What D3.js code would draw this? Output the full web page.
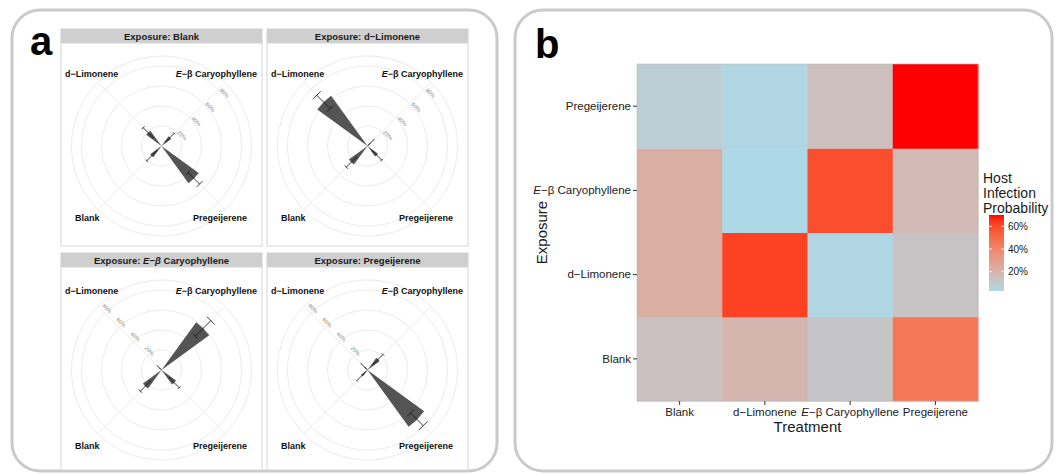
<!DOCTYPE html>
<html>
<head>
<meta charset="utf-8">
<script src="https://cdnjs.cloudflare.com/ajax/libs/d3/7.8.5/d3.min.js"></script>
<style>
  body { margin: 0; background: #fff; }
  text { font-family: "Liberation Sans", Arial, Helvetica, sans-serif; }
</style>
</head>
<body>
<div id="chart"></div>
<script>
// Data
// ================================
var treatments = ["Blank", "d−Limonene", "E−β Caryophyllene", "Pregeijerene"];
var exposures = ["Blank", "d−Limonene", "E−β Caryophyllene", "Pregeijerene"];
// order of the treatments around the rose, clockwise from 12 o'clock
var thetaOrder = ["E−β Caryophyllene", "Pregeijerene", "Blank", "d−Limonene"];

// rows = exposure, columns = treatment
var infectionProb = [
    [0.14, 0.19, 0.12, 0.46],
    [0.23, 0.62, 0.04, 0.13],
    [0.23, 0.03, 0.59, 0.18],
    [0.08, 0.04, 0.15, 0.70]
];
var lowerCI = [
    [0.07, 0.12, 0.06, 0.38],
    [0.16, 0.53, 0.00, 0.07],
    [0.16, 0.00, 0.48, 0.11],
    [0.02, 0.00, 0.08, 0.61]
];
var upperCI = [
    [0.21, 0.26, 0.18, 0.54],
    [0.30, 0.72, 0.09, 0.20],
    [0.30, 0.06, 0.70, 0.25],
    [0.15, 0.09, 0.22, 0.79]
];
var ringTicks = [0.2, 0.4, 0.6, 0.8];
var legendTicks = [0.2, 0.4, 0.6];

var svgWidth = 1059;
var svgHeight = 475;

var svg = d3.select("#chart")
    .append("svg")
    .attr("width", svgWidth)
    .attr("height", svgHeight);

// rounded frames
svg.append("rect")
    .attr("x", 12).attr("y", 10).attr("width", 485).attr("height", 461)
    .attr("rx", 28).attr("fill", "none")
    .attr("stroke", "#cacaca").attr("stroke-width", 3);
svg.append("rect")
    .attr("x", 515).attr("y", 10).attr("width", 537).attr("height", 461)
    .attr("rx", 28).attr("fill", "none")
    .attr("stroke", "#cacaca").attr("stroke-width", 3);

svg.append("text").attr("x", 30).attr("y", 55)
    .attr("font-size", "40px").attr("font-weight", "bold").text("a");
svg.append("text").attr("x", 535).attr("y", 58)
    .attr("font-size", "40px").attr("font-weight", "bold").text("b");

// writes a label, italic "E" (and optionally β) for the caryophyllene name
function setLabel(sel, label, italicBeta) {
    sel.text(null);
    if (label.indexOf("E−β") === 0) {
        sel.append("tspan").attr("font-style", "italic").text(italicBeta ? "E−β" : "E");
        sel.append("tspan").text(italicBeta ? label.slice(3) : label.slice(1));
    } else {
        sel.text(label);
    }
}

// Panel a: rose charts
// ================================
var facetX = [61, 267];
var stripTop = [29, 253];
var stripH = 14;
var panelW = 201;
var panelH = 203;
var topLabelDy = [34, 27];
var botLabelDy = [178, 182];

var rScale = d3.scaleLinear().domain([0, 0.9]).range([0, 90]);
var angle = d3.scaleBand().domain(thetaOrder).range([0, 2 * Math.PI]);
var bw = angle.bandwidth();

function pt(a, rad) {
    return [Math.sin(a) * rad, -Math.cos(a) * rad];
}

exposures.forEach(function (exp, ei) {
    var col = ei % 2, row = Math.floor(ei / 2);
    var px = facetX[col];
    var sy = stripTop[row];
    var py = sy + stripH;

    var g = svg.append("g");
    g.append("rect").attr("x", px).attr("y", sy).attr("width", panelW).attr("height", stripH)
        .attr("fill", "#cfcfcf").attr("stroke", "#cfcfcf");
    var st = g.append("text").attr("x", px + panelW / 2).attr("y", sy + 10.5)
        .attr("text-anchor", "middle").attr("font-size", "9.5px").attr("font-weight", "bold")
        .attr("fill", "#1a1a1a");
    st.append("tspan").text("Exposure: ");
    var stl = st.append("tspan");
    setLabel(stl, exp, true);

    g.append("rect").attr("x", px).attr("y", py).attr("width", panelW).attr("height", panelH)
        .attr("fill", "#fff").attr("stroke", "#d6d6d6").attr("stroke-width", 1);

    var cx = px + panelW / 2;
    var cy = py + panelH / 2 + 1.5;
    var pg = g.append("g").attr("transform", "translate(" + cx + "," + cy + ")");

    // grid
    ringTicks.concat([0.9]).forEach(function (t) {
        pg.append("circle").attr("r", rScale(t)).attr("fill", "none")
            .attr("stroke", "#ececec").attr("stroke-width", 1);
    });
    thetaOrder.forEach(function (t) {
        var e = pt(angle(t) + bw / 2, rScale(0.9));
        pg.append("line").attr("x1", 0).attr("y1", 0).attr("x2", e[0]).attr("y2", e[1])
            .attr("stroke", "#ececec").attr("stroke-width", 1);
    });

    // ring labels
    var spoke = row === 0 ? Math.PI / 4 : -Math.PI / 4;
    var perp = row === 0 ? 7 : 5;
    ringTicks.forEach(function (t) {
        var p = pt(spoke, rScale(t) + 2);
        var lx = p[0] + Math.cos(spoke) * perp;
        var ly = p[1] + Math.sin(spoke) * perp;
        pg.append("text")
            .attr("transform", "translate(" + lx + "," + ly + ") rotate(45)")
            .attr("text-anchor", "middle").attr("dy", "0.35em")
            .attr("font-size", "5.5px").attr("fill", "#8a8a8a")
            .text(d3.format(".0%")(t));
    });

    // wedges
    var arc = d3.arc();
    treatments.forEach(function (tr, ti) {
        var c = angle(tr) + bw / 2;
        pg.append("path")
            .attr("d", arc({
                innerRadius: 0,
                outerRadius: rScale(infectionProb[ei][ti]),
                startAngle: c - bw * 0.1,
                endAngle: c + bw * 0.1
            }))
            .attr("fill", "#545454");
    });

    // error bars
    treatments.forEach(function (tr, ti) {
        var c = angle(tr) + bw / 2;
        var lo = rScale(lowerCI[ei][ti]);
        var hi = rScale(upperCI[ei][ti]);
        var a = pt(c, lo), b = pt(c, hi);
        pg.append("line").attr("x1", a[0]).attr("y1", a[1]).attr("x2", b[0]).attr("y2", b[1])
            .attr("stroke", "#111").attr("stroke-width", 0.8);
        [lo, hi].forEach(function (rad) {
            var p1 = pt(c - bw * 0.05, rad), p2 = pt(c + bw * 0.05, rad);
            pg.append("line").attr("x1", p1[0]).attr("y1", p1[1]).attr("x2", p2[0]).attr("y2", p2[1])
                .attr("stroke", "#111").attr("stroke-width", 0.8);
        });
    });

    // corner labels
    var lab = [
        { t: "d−Limonene", x: px + 4, y: py + topLabelDy[row], a: "start" },
        { t: "E−β Caryophyllene", x: px + panelW - 5, y: py + topLabelDy[row], a: "end" },
        { t: "Blank", x: px + 14, y: py + botLabelDy[row], a: "start" },
        { t: "Pregeijerene", x: px + panelW - 15, y: py + botLabelDy[row], a: "end" }
    ];
    lab.forEach(function (l) {
        var tx = g.append("text").attr("x", l.x).attr("y", l.y).attr("text-anchor", l.a)
            .attr("font-size", "9px").attr("font-weight", "bold").attr("fill", "#111");
        setLabel(tx, l.t, false);
    });
});

// Panel b: heatmap
// ================================
var hm = { left: 637, right: 978, top: 64, bottom: 401 };

var xBand = d3.scaleBand().domain(treatments).range([hm.left, hm.right]);
var yBand = d3.scaleBand().domain(exposures.slice().reverse()).range([hm.top, hm.bottom]);

var allVals = d3.merge(infectionProb);
var color = d3.scaleLinear()
    .domain([d3.min(allVals), d3.max(allVals)])
    .range(["lightblue", "red"])
    .interpolate(d3.interpolateLab);

var cells = [];
exposures.forEach(function (e, ei) {
    treatments.forEach(function (t, ti) {
        cells.push({ exposure: e, treatment: t, value: infectionProb[ei][ti] });
    });
});

svg.append("g").selectAll("rect")
    .data(cells)
    .enter()
    .append("rect")
    .attr("x", d => xBand(d.treatment))
    .attr("y", d => yBand(d.exposure))
    .attr("width", xBand.bandwidth() + 0.5)
    .attr("height", yBand.bandwidth() + 0.5)
    .attr("fill", d => color(d.value));

svg.append("rect")
    .attr("x", hm.left).attr("y", hm.top)
    .attr("width", hm.right - hm.left).attr("height", hm.bottom - hm.top)
    .attr("fill", "none").attr("stroke", "#b8b8b8").attr("stroke-width", 0.6);

var leftAxis = d3.axisLeft(yBand).tickSize(4).tickPadding(2);
var bottomAxis = d3.axisBottom(xBand).tickSize(4).tickPadding(3);

var yAxisG = svg.append("g").attr("transform", "translate(" + hm.left + ",0)").call(leftAxis);
var xAxisG = svg.append("g").attr("transform", "translate(0," + hm.bottom + ")").call(bottomAxis);

[yAxisG, xAxisG].forEach(function (ax) {
    ax.select(".domain").remove();
    ax.selectAll(".tick line").attr("stroke", "#333");
    ax.selectAll(".tick text")
        .attr("font-size", "11.5px")
        .attr("font-family", "'Liberation Sans', Arial, sans-serif")
        .attr("fill", "#1a1a1a")
        .each(function (d) { setLabel(d3.select(this), d, false); });
});

svg.append("text")
    .attr("transform", "translate(547," + ((hm.top + hm.bottom) / 2) + ") rotate(-90)")
    .attr("text-anchor", "middle").attr("font-size", "15px").attr("fill", "#1a1a1a")
    .text("Exposure");

svg.append("text")
    .attr("x", (hm.left + hm.right) / 2).attr("y", 432)
    .attr("text-anchor", "middle").attr("font-size", "15px").attr("fill", "#1a1a1a")
    .text("Treatment");

// legend
var legX = 989, legW = 15, legTop = 215, legBottom = 291;
["Host", "Infection", "Probability"].forEach(function (s, i) {
    svg.append("text").attr("x", 983).attr("y", 183 + i * 15)
        .attr("font-size", "14px").attr("fill", "#1a1a1a").text(s);
});

var defs = svg.append("defs");
var grad = defs.append("linearGradient").attr("id", "legGrad")
    .attr("x1", "0%").attr("y1", "100%").attr("x2", "0%").attr("y2", "0%");
d3.range(0, 1.0001, 0.05).forEach(function (f) {
    var v = color.domain()[0] + f * (color.domain()[1] - color.domain()[0]);
    grad.append("stop").attr("offset", (f * 100) + "%").attr("stop-color", color(v));
});

var legY = d3.scaleLinear().domain(color.domain()).range([legBottom, legTop]);

svg.append("rect").attr("x", legX).attr("y", legTop)
    .attr("width", legW).attr("height", legBottom - legTop)
    .attr("fill", "url(#legGrad)");

legendTicks.forEach(function (t) {
    var yy = legY(t);
    svg.append("line").attr("x1", legX).attr("x2", legX + 3).attr("y1", yy).attr("y2", yy)
        .attr("stroke", "#fff").attr("stroke-width", 0.8);
    svg.append("line").attr("x1", legX + legW - 3).attr("x2", legX + legW).attr("y1", yy).attr("y2", yy)
        .attr("stroke", "#fff").attr("stroke-width", 0.8);
    svg.append("text").attr("x", legX + legW + 4).attr("y", yy).attr("dy", "0.35em")
        .attr("font-size", "10px").attr("fill", "#1a1a1a")
        .text(d3.format(".0%")(t));
});
</script>
</body>
</html>
